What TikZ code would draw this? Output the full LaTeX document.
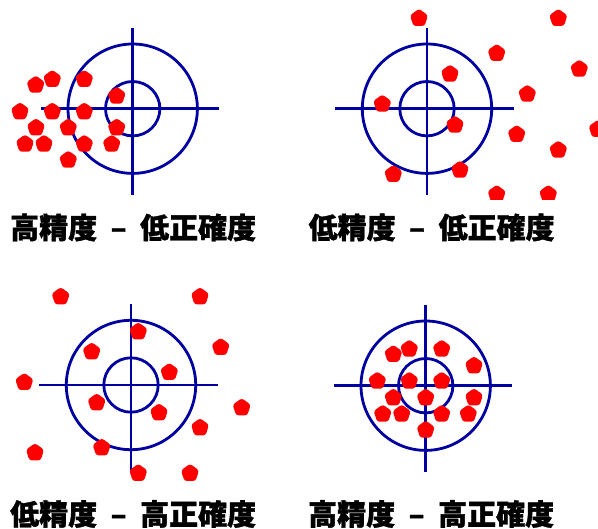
\documentclass[tikz,border=0pt]{standalone}
\usepackage{fontspec}
\newfontfamily\cjkfont{Noto Sans CJK JP}[BoldFeatures={FakeBold=1.3}]
\usetikzlibrary{shapes.geometric}
\definecolor{targetblue}{RGB}{0,0,160}
\definecolor{hitred}{RGB}{255,0,0}

\begin{document}
\begin{tikzpicture}[
  x=1pt, y=-1pt,
  ring/.style={draw=targetblue, line width=2.8pt},
  cross/.style={targetblue, line width=2.8pt},
  hit/.style={regular polygon, regular polygon sides=5, fill=hitred, rounded corners=2.6pt,
    minimum size=19pt, inner sep=0pt},
  caption/.style={font=\cjkfont\bfseries\fontsize{29}{29}\selectfont, anchor=west, inner sep=0pt}
]
\useasboundingbox (0,0) rectangle (598,529);

% top left: high precision, low accuracy
\begin{scope}[shift={(132.7,108.7)}]
  \draw[cross] (-92,0) -- (86.5,0);
  \draw[cross] (0,-81) -- (0,86.5);
  \draw[ring] (0,0) circle[radius=64.7pt];
  \draw[ring] (0,0) circle[radius=27.2pt];
\end{scope}
\foreach \x/\y [count=\i] in {35.7/85,52.3/79.3,84.3/79.3,116.7/96,20/111.7,52.3/111.7,84.3/111.7,
    36/127.7,68.3/127.7,116.7/127.7,25/144,44/144,84.3/144,111.7/144,68.3/160}
  \node[hit] (hitA\i) at (\x,\y) {};
\node[caption] (capA) at (10,227.5) {高精度\hspace{13.5pt}–\hspace{13.5pt}低正確度};

% top right: low precision, low accuracy
\begin{scope}[shift={(427,108.7)}]
  \draw[cross] (-92,0) -- (86.5,0);
  \draw[cross] (0,-81) -- (0,86.5);
  \draw[ring] (0,0) circle[radius=64.7pt];
  \draw[ring] (0,0) circle[radius=27.2pt];
\end{scope}
\begin{scope}
  \clip (300,0) rectangle (598,200);
  \foreach \x/\y [count=\i] in {419/18.3,558.3/18.3,496.7/53.3,579.3/69,450/74,527.3/94,382.3/104,
      455/125,597.7/129.3,516.7/134.3,558.3/150,393.3/174.3,460/170,496.7/194.3,548.3/194.3}
    \node[hit] (hitB\i) at (\x,\y) {};
\end{scope}
\node[caption] (capB) at (308.5,227.5) {低精度\hspace{13.5pt}–\hspace{13.5pt}低正確度};

% bottom left: low precision, high accuracy
\begin{scope}[shift={(131,385)}]
  \draw[cross] (-92,0) -- (86.5,0);
  \draw[cross] (0,-81) -- (0,86.5);
  \draw[ring] (0,0) circle[radius=64.7pt];
  \draw[ring] (0,0) circle[radius=27.2pt];
\end{scope}
\foreach \x/\y [count=\i] in {60.7/296.7,200/296.7,138.3/331.7,91.7/351.7,220.7/347.3,169.3/372.3,
    24.3/382.3,96.7/402.7,159/412.7,241.7/407.7,200/427.7,35/452.7,101.7/447.7,138.3/473.3,190/473.3}
  \node[hit] (hitC\i) at (\x,\y) {};
\node[caption] (capC) at (10,514) {低精度\hspace{13.5pt}–\hspace{13.5pt}高正確度};

% bottom right: high precision, high accuracy
\begin{scope}[shift={(425.7,385.7)}]
  \draw[cross] (-92,0) -- (86.5,0);
  \draw[cross] (0,-81) -- (0,86.5);
  \draw[ring] (0,0) circle[radius=64.7pt];
  \draw[ring] (0,0) circle[radius=27.2pt];
\end{scope}
\foreach \x/\y [count=\i] in {393.3/354.3,409.3/349,441.7/349,474/365.7,377.3/381,409.3/381,441.7/381,
    393.3/397.7,425.7/397.7,474/397.7,382.7/414,401.7/414,441.7/414,468.3/414,425.7/430}
  \node[hit] (hitD\i) at (\x,\y) {};
\node[caption] (capD) at (308,514) {高精度\hspace{13.5pt}–\hspace{13.5pt}高正確度};

\end{tikzpicture}
\end{document}
